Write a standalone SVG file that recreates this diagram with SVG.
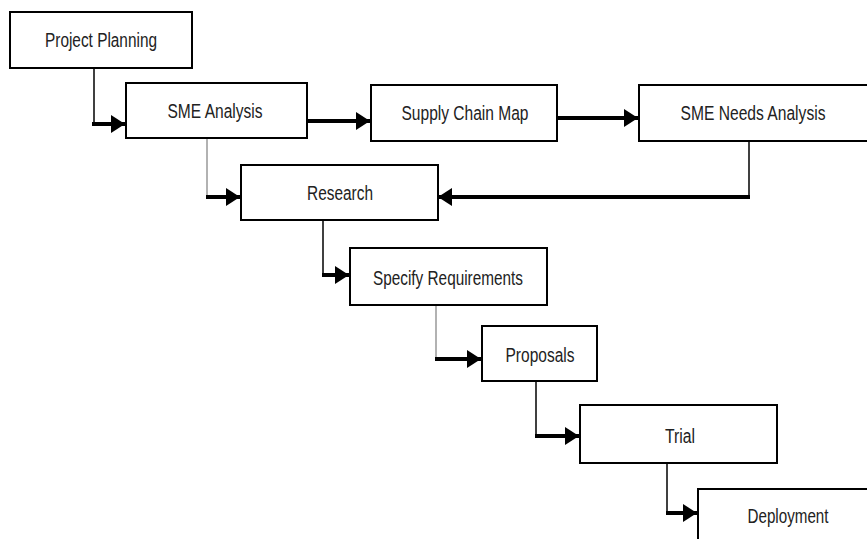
<svg xmlns="http://www.w3.org/2000/svg" width="867" height="539" viewBox="0 0 867 539">
<defs>
<style>
.box{fill:#fff;stroke:#000;stroke-width:2}
.lbl{font-family:"Liberation Sans Narrow","Liberation Sans",Arial,sans-serif;font-size:20px;fill:#222;text-anchor:middle}
.v{fill:none;stroke:#000;stroke-width:1.5}
.vg{fill:none;stroke:#999;stroke-width:1.5}
.h{fill:none;stroke:#000;stroke-width:4}
</style>
<marker id="ah" markerUnits="userSpaceOnUse" markerWidth="15" markerHeight="18" refX="14" refY="9" orient="auto">
<path d="M0,0 L14,9 L0,18 Z" fill="#000"/>
</marker>
</defs>
<rect width="867" height="539" fill="#fff"/>
<g id="connectors">
<path class="v" d="M94,68 V124"/>
<path class="h" d="M92,124 H125" marker-end="url(#ah)"/>
<path class="h" d="M307,121 H370" marker-end="url(#ah)"/>
<path class="h" d="M557,118 H638" marker-end="url(#ah)"/>
<path class="vg" d="M207,138 V197"/>
<path class="h" d="M206,197 H240" marker-end="url(#ah)"/>
<path class="v" d="M749,141 V197"/>
<path class="h" d="M750,197 H438" marker-end="url(#ah)"/>
<path class="v" d="M323,220 V275"/>
<path class="h" d="M322,275 H349" marker-end="url(#ah)"/>
<path class="vg" d="M436,305 V359"/>
<path class="h" d="M435,359 H481" marker-end="url(#ah)"/>
<path class="v" d="M536,381 V436"/>
<path class="h" d="M535,436 H579" marker-end="url(#ah)"/>
<path class="v" d="M667,463 V513"/>
<path class="h" d="M666,513 H697" marker-end="url(#ah)"/>
</g>
<g id="project-planning"><rect class="box" x="10" y="12" width="182" height="56"/><text class="lbl" x="101" y="47" textLength="112" lengthAdjust="spacingAndGlyphs">Project Planning</text></g>
<g id="sme-analysis"><rect class="box" x="126" y="83" width="181" height="55"/><text class="lbl" x="215" y="118" textLength="95" lengthAdjust="spacingAndGlyphs">SME Analysis</text></g>
<g id="supply-chain-map"><rect class="box" x="371" y="85" width="186" height="56"/><text class="lbl" x="465" y="120" textLength="127" lengthAdjust="spacingAndGlyphs">Supply Chain Map</text></g>
<g id="sme-needs-analysis"><rect class="box" x="639" y="85" width="240" height="56"/><text class="lbl" x="753" y="120" textLength="145" lengthAdjust="spacingAndGlyphs">SME Needs Analysis</text></g>
<g id="research"><rect class="box" x="241" y="165" width="197" height="55"/><text class="lbl" x="340" y="200" textLength="66" lengthAdjust="spacingAndGlyphs">Research</text></g>
<g id="specify-requirements"><rect class="box" x="350" y="248" width="197" height="57"/><text class="lbl" x="448" y="285" textLength="150" lengthAdjust="spacingAndGlyphs">Specify Requirements</text></g>
<g id="proposals"><rect class="box" x="482" y="326" width="115" height="55"/><text class="lbl" x="540" y="362" textLength="69" lengthAdjust="spacingAndGlyphs">Proposals</text></g>
<g id="trial"><rect class="box" x="580" y="405" width="197" height="58"/><text class="lbl" x="680" y="443" textLength="30" lengthAdjust="spacingAndGlyphs">Trial</text></g>
<g id="deployment"><rect class="box" x="698" y="489" width="190" height="70"/><text class="lbl" x="788" y="523" textLength="81" lengthAdjust="spacingAndGlyphs">Deployment</text></g>
</svg>
